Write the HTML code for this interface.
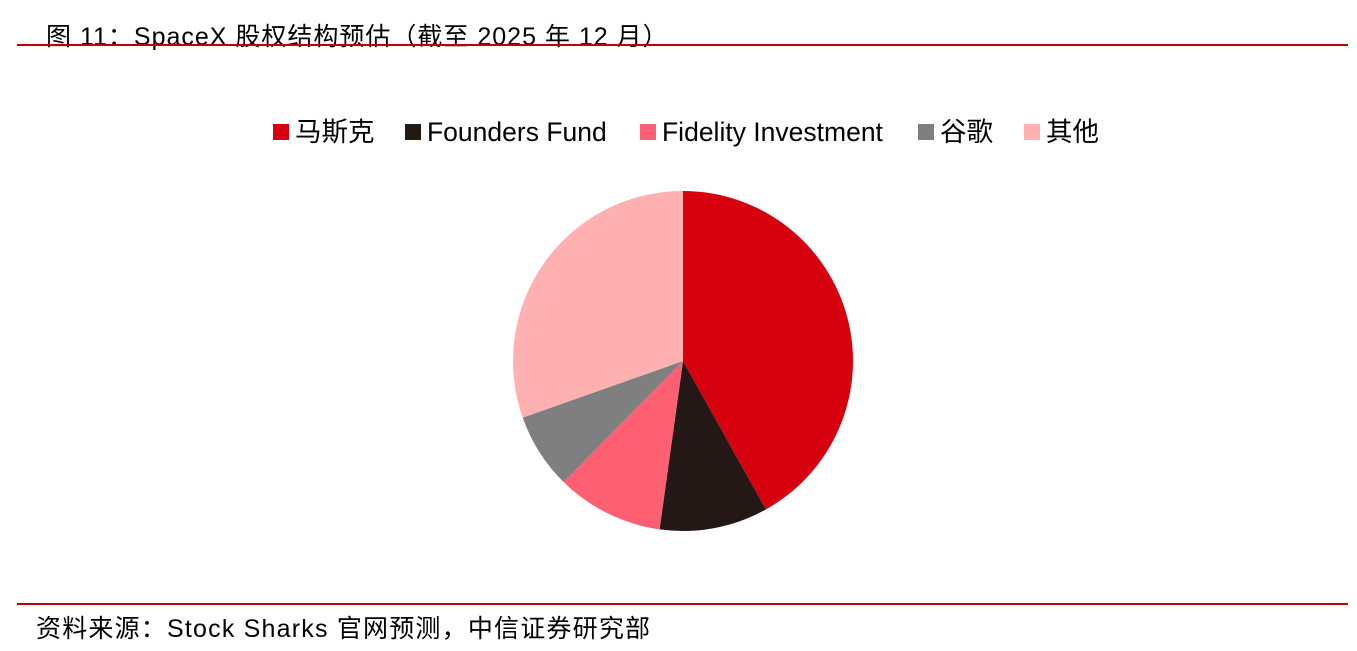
<!DOCTYPE html>
<html><head><meta charset="utf-8"><style>
body{margin:0;width:1357px;height:651px;background:#fff;position:relative;overflow:hidden;font-family:"Liberation Sans","Noto Sans CJK SC",sans-serif;color:#000}
.t{position:absolute;white-space:nowrap}
.line{position:absolute;left:17px;width:1331px;height:2px;background:#c00000}
</style></head><body>
<div class="t" style="left:46px;top:17px;font-size:25px;letter-spacing:1px">图 11：SpaceX 股权结构预估（截至 2025 年 12 月）</div>
<div class="line" style="top:44px"></div>
<svg width="1357" height="651" style="position:absolute;left:0;top:0">
<g id="legend"></g><g id="pie"></g>
</svg>
<div class="line" style="top:603px"></div>
<div class="t" style="left:36px;top:609px;font-size:25px;letter-spacing:1.2px">资料来源：Stock Sharks 官网预测，中信证券研究部</div>
<script>
const categories=["马斯克","Founders Fund","Fidelity Investment","谷歌","其他"];
const values=[41.9,10.3,10.2,7.2,30.4];
const colors=["#d7000f","#231815","#ff5f73","#7f7f7f","#ffb1b1"];
const NS="http://www.w3.org/2000/svg";
const cx=683,cy=361,r=170;
const total=values.reduce((a,b)=>a+b,0);
const pie=document.getElementById('pie');
let a0=0;
values.forEach((v,i)=>{
  const a1=a0+v/total*2*Math.PI;
  const x0=cx+r*Math.sin(a0),y0=cy-r*Math.cos(a0),x1=cx+r*Math.sin(a1),y1=cy-r*Math.cos(a1);
  const p=document.createElementNS(NS,'path');
  p.setAttribute('d',`M${cx},${cy}L${x0},${y0}A${r},${r} 0 ${a1-a0>Math.PI?1:0} 1 ${x1},${y1}Z`);
  p.setAttribute('fill',colors[i]);
  
  
  pie.appendChild(p);
  a0=a1;
});
const lg=document.getElementById('legend');
const lx=[273,405,640,918,1024];
categories.forEach((c,i)=>{
  const g=document.createElementNS(NS,'g');
  
  
  const s=document.createElementNS(NS,'rect');
  s.setAttribute('x',lx[i]);s.setAttribute('y',124);s.setAttribute('width',16);s.setAttribute('height',16);s.setAttribute('fill',colors[i]);
  const t=document.createElementNS(NS,'text');
  t.setAttribute('x',lx[i]+22);t.setAttribute('y',141);t.setAttribute('font-size','26.5');
  t.setAttribute('font-family','"Liberation Sans","Noto Sans CJK SC",sans-serif');
  t.textContent=c;
  g.appendChild(s);g.appendChild(t);lg.appendChild(g);
});
</script>
</body></html>
